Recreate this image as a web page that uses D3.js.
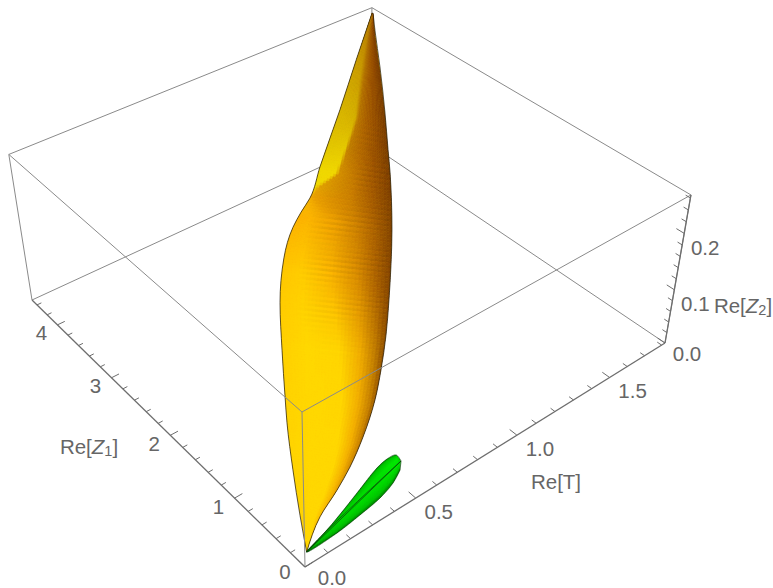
<!DOCTYPE html>
<html><head><meta charset="utf-8"><style>html,body{margin:0;background:#fff}svg{display:block}text{font-family:"Liberation Sans",Arial,sans-serif;fill:#666;font-size:20.5px}</style>
<script src="https://cdn.jsdelivr.net/npm/d3@7"></script></head><body><div id="c"></div><script>
const tTicks=[0,.5,1,1.5], z1Ticks=[0,1,2,3,4], z2Ticks=[0,.1,.2];
const tMax=1.82,z1Max=4.5,z2Max=.265;
// yellow surface, silhouette (data units)
const leftT=[1.823,1.582,1.335,1.076,.946,.876,.806,.689,.554,.438,.331,.275,.184,.105,.045];
const leftZ1=[4.507,4.054,3.583,3.114,2.871,2.793,2.700,2.471,2.102,1.703,1.319,1.114,.743,.397,.119];
const leftZ2=[.254,.232,.209,.182,.167,.160,.153,.139,.118,.095,.073,.061,.039,.017,0];
const rightT=[1.827,1.761,1.628,1.470,1.348,1.276,1.098,.989,.882,.777,.670,.577,.453,.347,.260,.155,.045];
const rightZ1=[4.500,4.274,3.801,3.258,2.855,2.614,2.069,1.767,1.485,1.221,.979,.789,.589,.451,.365,.276,.119];
const rightZ2=[.254,.246,.229,.207,.190,.179,.152,.135,.119,.102,.086,.072,.054,.040,.029,.017,0];
// green surface, silhouette on the floor
const lobeUpperT=[.045,.198,.354,.488,.546,.585];
const lobeUpperZ1=[.119,.232,.371,.491,.519,.506];
const lobeLowerT=[.045,.180,.295,.402,.485,.547];
const lobeLowerZ1=[.119,.122,.156,.198,.262,.343];
const lobeCap=[.579,.421];

const O=[305,567],R=[665,343],L=[32,300],U=[302,412],dd=.173,ee=.217,ff=-.086;
const sx=d3.scaleLinear([0,tMax],[0,1]),sy=d3.scaleLinear([0,z1Max],[0,1]),sz=d3.scaleLinear([0,z2Max],[0,1]);
const A=[0,1].map(k=>R[k]*(1+dd)-O[k]),B=[0,1].map(k=>L[k]*(1+ee)-O[k]),C=[0,1].map(k=>U[k]*(1+ff)-O[k]);
function pr(t,a,b){const X=sx(t),Y=sy(a),Z=sz(b),w=1+dd*X+ee*Y+ff*Z;return [0,1].map(k=>(O[k]+A[k]*X+B[k]*Y+C[k]*Z)/w);}

const svg=d3.select("#c").append("svg").attr("width",773).attr("height",588);
const ln=d3.line(),sm=d3.line().curve(d3.curveCatmullRom.alpha(.5)),my=d3.line().curve(d3.curveMonotoneY);
const seg=(g,p,q,col,w)=>g.append("path").attr("d",ln([p,q])).attr("stroke",col).attr("stroke-width",w).attr("fill","none");
const boxCol="#8a8a8a";
const back=svg.append("g");
[[[0,z1Max,0],[tMax,z1Max,0]],[[tMax,0,0],[tMax,z1Max,0]],[[tMax,z1Max,0],[tMax,z1Max,z2Max]],[[0,z1Max,z2Max],[tMax,z1Max,z2Max]],[[tMax,0,z2Max],[tMax,z1Max,z2Max]],[[0,z1Max,0],[0,z1Max,z2Max]],[[tMax,0,0],[tMax,0,z2Max]]].forEach(e=>seg(back,pr(...e[0]),pr(...e[1]),boxCol,1));

const shade=[[0,[[0,"#FFD400"],[.4,"#FFD800"],[.7,"#FFD800"],[.85,"#FFC400"],[.95,"#E8A000"],[1,"#B06C00"]]],
[.19,[[0,"#FFD400"],[.3,"#FFD800"],[.68,"#FFD800"],[.84,"#F4B000"],[.94,"#CC8400"],[1,"#8C4C00"]]],
[.375,[[0,"#FFD000"],[.25,"#FFD800"],[.56,"#FFD600"],[.76,"#F0AC00"],[.9,"#C07C00"],[1,"#844400"]]],
[.505,[[0,"#FFC800"],[.2,"#FFCE00"],[.46,"#F8B400"],[.7,"#D88C00"],[.86,"#AC6200"],[1,"#7E4000"]]],
[.616,[[0,"#FCB000"],[.15,"#FCB400"],[.42,"#E89C00"],[.62,"#CC8000"],[.8,"#AC6200"],[1,"#7E4000"]]],
[.653,[[0,"#F5C400"],[.02,"#F4B000"],[.06,"#EAA000"],[.5,"#CC8000"],[.75,"#A85E00"],[1,"#7E4000"]]],
[.672,[[0,"#F0DC00"],[.07,"#F0D800"],[.10,"#E0A000"],[.5,"#C87C00"],[.75,"#A45A00"],[1,"#7C3E00"]]],
[.70,[[0,"#EED800"],[.26,"#F0D800"],[.30,"#D49000"],[.5,"#C27800"],[.75,"#A05600"],[1,"#7A3C00"]]],
[.751,[[0,"#E0C400"],[.32,"#E4C800"],[.36,"#C07E00"],[.55,"#B26800"],[.78,"#985000"],[1,"#783C00"]]],
[.807,[[0,"#D8B800"],[.38,"#D4B000"],[.44,"#B87600"],[.6,"#A85E00"],[.8,"#924C00"],[1,"#783C00"]]],
[.913,[[0,"#C89C00"],[.3,"#C49400"],[.45,"#AE6E00"],[.6,"#A05800"],[.8,"#8E4800"],[1,"#783C00"]]],
[1,[[0,"#B87C00"],[.3,"#B47800"],[.45,"#A86800"],[.6,"#A05C00"],[.8,"#905000"],[1,"#804400"]]]];
const vs=shade.map(r=>r[0]);
const stopU=d3.range(6).map(k=>d3.scaleLinear(vs,shade.map(r=>r[1][k][0])));
const stopC=d3.range(6).map(k=>d3.scaleLinear(vs,shade.map(r=>r[1][k][1])));
function col(u,v){return d3.scaleLinear(stopU.map(f=>f(v)),stopC.map(f=>f(v))).clamp(true)(u);}

const lp=leftT.map((t,i)=>pr(t,leftZ1[i],leftZ2[i])),rp=rightT.map((t,i)=>pr(t,rightZ1[i],rightZ2[i]));
const yT=lp[0][1],yB=lp[lp.length-1][1];
const lx=d3.scaleLinear(lp.map(p=>p[1]),lp.map(p=>p[0])),rx=d3.scaleLinear(rp.map(p=>p[1]),rp.map(p=>p[0]));
const closed=(f,a,b)=>f(a)+f(b.slice().reverse()).replace(/^M/,"L")+"Z";
const bodyD=closed(my,lp,rp);
svg.append("clipPath").attr("id","bc").append("path").attr("d",bodyD);
const bg=svg.append("g").attr("clip-path","url(#bc)");
bg.append("path").attr("d",bodyD).attr("fill","#FFD000");
const N=215,M=30,tilt=12,ys=d3.range(N+1).map(i=>yT-8+(yB-yT+16)*i/N);
for(let i=0;i<N;i++){const y0=ys[i],y1=ys[i+1],ym=(y0+y1)/2,v=Math.max(0,Math.min(1,(yB-ym)/(yB-yT)));
 const row=[];for(let j=0;j<M;j++){const u0=j/M,u1=(j+1)/M,um=(u0+u1)/2;
  const P=(y,u)=>{const yy=Math.max(yT,Math.min(yB,y));return [lx(yy)+(rx(yy)-lx(yy))*u*1.03-(rx(yy)-lx(yy))*.015,y+tilt*(u-.35)];};
  let c=d3.rgb(col(um,v));
  const env=Math.max(0,Math.min(1,(v-.36)/.14))*Math.max(0,Math.min(1,(.82-v)/.06))*Math.max(0,Math.min(1,(um-.15-(v>.66?.25:0))/.25));
  const amp=.035*env*(.6+.4*Math.sin(i*.37+um*4));const k=1+amp*(i%2?1:-1);
  c=d3.rgb(c.r*k,c.g*k,c.b*k).formatHex();
  row.push({d:ln([P(y0,u0),P(y0,u1),P(y1,u1),P(y1,u0)])+"Z",c});}
 bg.append("g").selectAll("path").data(row).join("path").attr("d",d=>d.d).attr("fill",d=>d.c).attr("stroke",d=>d.c).attr("stroke-width",.5);}
svg.append("path").attr("d",bodyD).attr("fill","none").attr("stroke","#2e2410").attr("stroke-width",.9).attr("stroke-opacity",.85);

// green lobe
const up=lobeUpperT.map((t,i)=>pr(t,lobeUpperZ1[i],0)),wp=lobeLowerT.map((t,i)=>pr(t,lobeLowerZ1[i],0)),cap=pr(lobeCap[0],lobeCap[1],0);
const goutD=closed(sm,up.concat([cap]),[cap].concat(wp));
svg.append("clipPath").attr("id","gc").append("path").attr("d",goutD);
const gg=svg.append("g").attr("clip-path","url(#gc)");
gg.append("path").attr("d",goutD).attr("fill","#00d800");
const idx=d3.range(up.length);
const ux=d3.scaleLinear(idx,up.map(p=>p[0])),uy=d3.scaleLinear(idx,up.map(p=>p[1])),wx=d3.scaleLinear(idx,wp.map(p=>p[0])),wy=d3.scaleLinear(idx,wp.map(p=>p[1]));
const gs=d3.scaleLinear([0,.08,.3,.6,.88,1],["#009C00","#00CC00","#00EC00","#00E800","#00CC00","#008800"]);
const len=d3.scaleLinear([0,.3,1],[.8,.92,1]);
const GN=50,GM=18;
for(let i=0;i<GN;i++){const t0=i/GN*(up.length-1),t1=(i+1)/GN*(up.length-1);const cells=[];
 for(let j=0;j<GM;j++){const a=j/GM,b=(j+1)/GM;const Q=(t,u)=>[ux(t)+(wx(t)-ux(t))*u,uy(t)+(wy(t)-uy(t))*u];
  const c0=d3.rgb(gs((a+b)/2)),k=len(i/GN);cells.push({d:ln([Q(t0,a),Q(t0,b),Q(t1,b),Q(t1,a)])+"Z",c:d3.rgb(c0.r*k,c0.g*k,c0.b*k).formatHex()});}
 gg.append("g").selectAll("path").data(cells).join("path").attr("d",d=>d.d).attr("fill",d=>d.c).attr("stroke",d=>d.c).attr("stroke-width",.5);}
svg.append("path").attr("d",goutD).attr("fill","none").attr("stroke","#0a3a0a").attr("stroke-width",.8).attr("stroke-opacity",.85);

// front edges + axes
const front=svg.append("g");
[[[0,0,0],[0,0,z2Max]],[[0,0,z2Max],[tMax,0,z2Max]],[[0,0,z2Max],[0,z1Max,z2Max]]].forEach(e=>seg(front,pr(...e[0]),pr(...e[1]),boxCol,1));
const axCol="#6e6e6e";
seg(front,pr(0,0,0),pr(tMax,0,0),axCol,1.3);seg(front,pr(0,0,0),pr(0,z1Max,0),axCol,1.3);seg(front,pr(tMax,0,0),pr(tMax,0,z2Max),axCol,1.3);
const maj=.021,minr=.0125;
d3.range(0,tMax,.1).forEach((t,i)=>seg(front,pr(t,0,0),pr(t,(i%5?minr:maj)*z1Max,0),axCol,1));
d3.range(0,z1Max,.2).forEach((a,i)=>seg(front,pr(0,a,0),pr((i%5?minr:maj)*tMax*.9,a,0),axCol,1));
d3.range(0,z2Max,.02).forEach((b,i)=>seg(front,pr(tMax,0,b),pr(tMax,(i%5?minr:maj)*z1Max,b),axCol,1));

const lab=(p,dx,dy,s)=>svg.append("text").attr("x",p[0]+dx).attr("y",p[1]+dy).attr("text-anchor","middle").attr("dominant-baseline","central").text(s);
tTicks.forEach(t=>{const o=t?[23,13]:[27,10];lab(pr(t,0,0),o[0],o[1],t.toFixed(1));});
z1Ticks.forEach(a=>{const o=a?[-16,8]:[-20,4];lab(pr(0,a,0),o[0],o[1],String(a));});
z2Ticks.forEach(b=>{const o=b?[21,14]:[22,10];lab(pr(tMax,0,b),o[0],o[1],b.toFixed(1));});
function title(x,y,sym,sub){const t=svg.append("text").attr("x",x).attr("y",y).attr("text-anchor","middle").attr("dominant-baseline","central");
 t.append("tspan").text("Re[");
 const i=t.append("tspan").text(sym);if(sub)i.attr("font-style","italic");
 if(sub)t.append("tspan").attr("dy",5).attr("font-size",14.5).text(sub);
 t.append("tspan").attr("dy",sub?-5:0).text("]");}
title(89,446,"Z","1");title(556,481,"T","");title(743,305,"Z","2");
</script></body></html>
